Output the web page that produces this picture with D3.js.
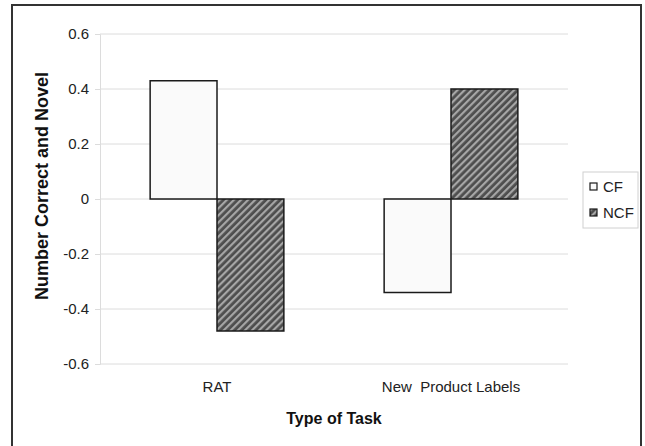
<!DOCTYPE html>
<html><head><meta charset="utf-8">
<script src="https://cdn.jsdelivr.net/npm/d3@7"></script>
<style>body{margin:0;background:#fff}svg{display:block;font-family:"Liberation Sans",Arial,sans-serif}</style>
</head><body>
<script>
const categories = ["RAT", "New  Product Labels"];
const seriesNames = ["CF", "NCF"];
const cfValues = [0.43, -0.34];
const ncfValues = [-0.48, 0.40];
const yTicks = [-0.6, -0.4, -0.2, 0, 0.2, 0.4, 0.6];

const W = 645, H = 446;
const svg = d3.select("body").append("svg").attr("width", W).attr("height", H);

const defs = svg.append("defs");
const pat = defs.append("pattern").attr("id", "hatch").attr("patternUnits", "userSpaceOnUse")
  .attr("width", 5).attr("height", 5).attr("patternTransform", "rotate(45)");
pat.append("rect").attr("width", 5).attr("height", 5).attr("fill", "#4d4d4d");
pat.append("rect").attr("x", 0).attr("width", 2.2).attr("height", 5).attr("fill", "#a6a6a6");

// outer frame
svg.append("rect").attr("x", 12).attr("y", 5).attr("width", 629).attr("height", 460)
  .attr("fill", "#fff").attr("stroke", "#333").attr("stroke-width", 2);

const plot = {left: 100, right: 568, top: 34, bottom: 364};
const y = d3.scaleLinear().domain([-0.6, 0.6]).range([plot.bottom, plot.top]);
const x0 = d3.scaleBand().domain(categories).range([plot.left, plot.right]).padding(0);
const x1 = d3.scaleBand().domain(seriesNames).range([0, x0.bandwidth()]).paddingInner(0).paddingOuter(0.75);

// gridlines
svg.append("g").selectAll("line").data(yTicks).join("line")
  .attr("x1", plot.left).attr("x2", plot.right)
  .attr("y1", d => y(d)).attr("y2", d => y(d))
  .attr("stroke", "#dcdcdc").attr("stroke-width", 1);

// y axis
const fmt = d => d === 0 ? "0" : d3.format(".1f")(d).replace("\u2212", "-");
const yAxis = svg.append("g").attr("transform", `translate(${plot.left},0)`)
  .call(d3.axisLeft(y).tickValues(yTicks).tickSize(5).tickPadding(6).tickFormat(fmt));
yAxis.select(".domain").attr("stroke", "#dcdcdc");
yAxis.selectAll(".tick line").attr("stroke", "#dcdcdc");
yAxis.selectAll("text").attr("font-size", 15).attr("fill", "#222").attr("font-family", "Liberation Sans, Arial, sans-serif");

const data = categories.map((c, i) => ({cat: c, vals: [{s: "CF", v: cfValues[i]}, {s: "NCF", v: ncfValues[i]}]}));
const groups = svg.append("g").selectAll("g").data(data).join("g")
  .attr("transform", d => `translate(${x0(d.cat)},0)`);
groups.selectAll("rect").data(d => d.vals).join("rect")
  .attr("x", d => x1(d.s)).attr("width", x1.bandwidth())
  .attr("y", d => y(Math.max(0, d.v))).attr("height", d => Math.abs(y(d.v) - y(0)))
  .attr("fill", d => d.s === "CF" ? "#fafafa" : "url(#hatch)")
  .attr("stroke", "#1a1a1a").attr("stroke-width", 1.5);

// x labels
svg.append("g").selectAll("text").data(categories).join("text")
  .attr("x", d => x0(d) + x0.bandwidth() / 2).attr("y", 392)
  .attr("text-anchor", "middle").attr("font-size", 15).attr("fill", "#222")
  .attr("xml:space", "preserve").style("white-space", "pre")
  .text(d => d);

// axis titles
svg.append("text").attr("x", (plot.left + plot.right) / 2).attr("y", 424)
  .attr("text-anchor", "middle").attr("font-size", 16).attr("font-weight", "bold").attr("fill", "#111")
  .text("Type of Task");
svg.append("text").attr("transform", "translate(48,186) rotate(-90)")
  .attr("text-anchor", "middle").attr("font-size", 18).attr("font-weight", "bold").attr("fill", "#111")
  .text("Number Correct and Novel");

// legend
const lg = svg.append("g");
lg.append("rect").attr("x", 583).attr("y", 172).attr("width", 55).attr("height", 56)
  .attr("fill", "#fff").attr("stroke", "#d0d0d0");
const items = lg.selectAll("g").data(seriesNames).join("g")
  .attr("transform", (d, i) => `translate(590,${183 + i * 26})`);
items.append("rect").attr("width", 7).attr("height", 7)
  .attr("fill", d => d === "CF" ? "#fafafa" : "url(#hatch)").attr("stroke", "#1a1a1a").attr("stroke-width", 1.2);
items.append("text").attr("x", 13).attr("y", 8.5).attr("font-size", 15).attr("fill", "#222").text(d => d);
</script>
</body></html>
